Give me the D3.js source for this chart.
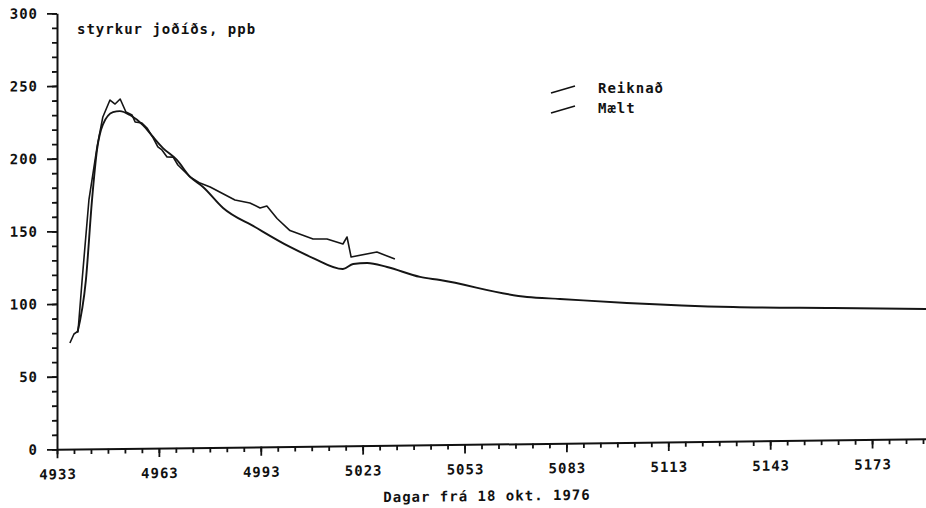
<!DOCTYPE html>
<html>
<head>
<meta charset="utf-8">
<script src="https://cdn.jsdelivr.net/npm/d3@7"></script>
<style>
  html, body { margin: 0; padding: 0; background: #fff; }
  svg { display: block; }
  text { font-family: "DejaVu Sans Mono", "Liberation Mono", monospace; fill: #111; }
</style>
</head>
<body>
<svg id="chart" width="926" height="508"></svg>
<script>
// ---- data ----
const seriesNames = ["Reiknað", "Mælt"];
// Reiknað (calculated, smooth curve)
const calcDays = [4939, 4941.5, 4943.3, 4944.8, 4946.5, 4949.5, 4951.5, 4954.5, 4958.3, 4961.3, 4964.2, 4968.3, 4972.2, 4976.0, 4981.9, 4991.3, 5001.6, 5008.4, 5017.2, 5020.2, 5024.3, 5030.2, 5039.9, 5045.8, 5071.4, 5081.1, 5100.8, 5132.1, 5161.5, 5189];
const calcVals = [80, 116, 171, 206, 223, 231.5, 232.2, 229.4, 222.4, 214.1, 206.4, 198.1, 186.3, 179.3, 164.7, 151.3, 137.3, 129.5, 121.7, 125.1, 125.6, 122.7, 115.6, 113.3, 100.9, 99.3, 96, 92.3, 90.8, 89.4];
// Mælt (measured)
const measDays = [4936.8, 4938.0, 4939.2, 4940.4, 4942.4, 4944.8, 4946.5, 4948.6, 4950.1, 4951.6, 4953.3, 4955.1, 4956.0, 4958.0, 4959.5, 4961.3, 4962.7, 4963.9, 4965.4, 4967.2, 4968.6, 4972.2, 4975.1, 4978.1, 4985.4, 4989.8, 4992.8, 4994.8, 4997.8, 5001.6, 5008.4, 5012.5, 5017.2, 5018.4, 5019.6, 5027.2, 5032.5];
const measVals = [73, 79.2, 81.2, 116.3, 171.3, 207.7, 228.3, 239.9, 237.1, 240.5, 231.5, 229.4, 224.6, 223.8, 220.3, 213.5, 207.2, 205.1, 200.2, 200.1, 194.6, 186.3, 182, 179.2, 170.1, 167.9, 164.4, 165.7, 157, 148.6, 142.6, 142.5, 138.9, 143.7, 129.9, 133.1, 128.1];
const xTickLabels = ["4933", "4963", "4993", "5023", "5053", "5083", "5113", "5143", "5173"];
const yTickLabels = ["0", "50", "100", "150", "200", "250", "300"];
const titleText = "styrkur joðíðs, ppb";
const xTitleText = "Dagar frá 18 okt. 1976";

// ---- layout ----
const svg = d3.select("#chart");
const x0 = 57, x1 = 926.4, yBottom = 449.3, yTop = 13.3;
const x = d3.scaleLinear().domain([4933, 5189]).range([x0, x1]);
const y = d3.scaleLinear().domain([0, 300]).range([yBottom, yTop]);
const k = 0.012; // slight tilt of the scanned plot
const skewDeg = -Math.atan(k) * 180 / Math.PI;

const g = svg.append("g")
  .attr("transform", `translate(0,${x0 * k}) skewY(${skewDeg})`);

const FS = 14, LS = 1;
const xMinor = d3.range(4933, 5190, 5);
const xMajor = xTickLabels.map(Number);
const yMinor = d3.range(0, 301, 10);
const yMajor = yTickLabels.map(Number);

function styleAxis(sel) {
  sel.selectAll("path.domain").attr("stroke", "#111").attr("stroke-width", 2);
  sel.selectAll(".tick line").attr("stroke", "#111").attr("stroke-width", 1.8);
}

const xMinG = g.append("g").attr("transform", `translate(0,${yBottom})`)
  .call(d3.axisBottom(x).tickValues(xMinor).tickSize(5).tickSizeOuter(0).tickFormat(""));
styleAxis(xMinG);
const xa = g.append("g").attr("transform", `translate(0,${yBottom})`)
  .call(d3.axisBottom(x).tickValues(xMajor).tickSize(9).tickSizeOuter(0).tickPadding(11)
    .tickFormat((d, i) => xTickLabels[i]));
styleAxis(xa);
xa.selectAll("path.domain").remove();
xa.selectAll(".tick text")
  .attr("font-size", FS).attr("letter-spacing", LS)
  .attr("font-family", "DejaVu Sans Mono").attr("font-weight", "bold")
  .attr("fill", "#111").attr("dx", "0.5");

const yMinG = g.append("g").attr("transform", `translate(${x0},0)`)
  .call(d3.axisLeft(y).tickValues(yMinor).tickSize(5).tickSizeOuter(0).tickFormat(""));
styleAxis(yMinG);
const ya = g.append("g").attr("transform", `translate(${x0},0)`)
  .call(d3.axisLeft(y).tickValues(yMajor).tickSize(10).tickSizeOuter(0).tickPadding(9)
    .tickFormat((d, i) => yTickLabels[i]));
styleAxis(ya);
ya.selectAll("path.domain").remove();
ya.selectAll(".tick text")
  .attr("font-size", FS).attr("letter-spacing", LS)
  .attr("font-family", "DejaVu Sans Mono").attr("font-weight", "bold")
  .attr("fill", "#111");

const calcData = calcDays.map((d, i) => [d, calcVals[i]]);
const measData = measDays.map((d, i) => [d, measVals[i]]);

g.append("path").datum(calcData)
  .attr("fill", "none").attr("stroke", "#151515").attr("stroke-width", 1.9)
  .attr("d", d3.line().x(d => x(d[0])).y(d => y(d[1])).curve(d3.curveMonotoneX));

g.append("path").datum(measData)
  .attr("fill", "none").attr("stroke", "#151515").attr("stroke-width", 1.6)
  .attr("stroke-linejoin", "round")
  .attr("d", d3.line().x(d => x(d[0])).y(d => y(d[1])));

g.append("text")
  .attr("x", 487).attr("y", 506)
  .attr("text-anchor", "middle")
  .attr("font-size", FS).attr("letter-spacing", LS).attr("font-weight", "bold")
  .text(xTitleText);

svg.append("text")
  .attr("x", 77).attr("y", 34)
  .attr("font-size", FS).attr("letter-spacing", LS).attr("font-weight", "bold")
  .text(titleText);

const legend = svg.append("g").attr("transform", "translate(551,93)");
seriesNames.forEach((name, i) => {
  const row = legend.append("g").attr("transform", `translate(0,${i * 20})`);
  row.append("line").attr("x1", 0).attr("y1", 0).attr("x2", 24).attr("y2", -7)
    .attr("stroke", "#111").attr("stroke-width", 1.6);
  row.append("text").attr("x", 47).attr("y", 0)
    .attr("font-size", FS).attr("letter-spacing", LS).attr("font-weight", "bold")
    .text(name);
});
</script>
</body>
</html>
